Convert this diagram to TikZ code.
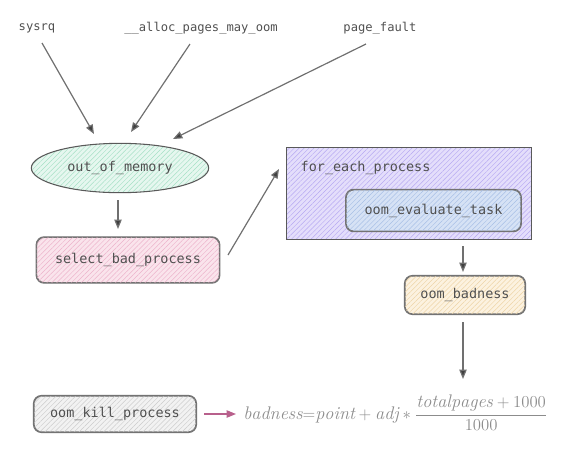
\documentclass[tikz,border=0pt]{standalone}
\usepackage{fontspec}
\usepackage{graphicx}
\setmonofont{DejaVu Sans Mono}
\usetikzlibrary{arrows.meta,patterns.meta,shapes.geometric}
\definecolor{txt}{HTML}{505050}
\definecolor{ln}{HTML}{707070}
\definecolor{tip}{HTML}{404040}
\definecolor{greenF}{HTML}{E6F7EF}
\definecolor{greenH}{HTML}{A6E0C6}
\definecolor{pinkF}{HTML}{FAE4EC}
\definecolor{pinkH}{HTML}{EDB3CB}
\definecolor{purpF}{HTML}{E4DEFB}
\definecolor{purpH}{HTML}{B6A9F2}
\definecolor{blueF}{HTML}{D6E2F5}
\definecolor{blueH}{HTML}{A7BFE6}
\definecolor{orF}{HTML}{FCF2E0}
\definecolor{orH}{HTML}{EED4A6}
\definecolor{grF}{HTML}{F2F2F2}
\definecolor{grH}{HTML}{CCCCCC}
\definecolor{pinkA}{HTML}{B8608C}
\tikzset{
  lbl/.style={font=\ttfamily\fontsize{9.1}{11}\selectfont, text=txt},
  blbl/.style={font=\ttfamily\fontsize{10.1}{12}\selectfont, text=txt},
  conn/.style={draw=ln, line width=0.9pt, -{Triangle[length=7pt,width=5.5pt,fill=tip]}},
  box/.style={rounded corners=6pt, draw=black!55, line width=0.8pt, inner sep=0pt},
  hatch/.style={pattern={Lines[angle=45,distance=2.6pt,line width=0.35pt]}, pattern color=#1, rounded corners=6pt},
  outl/.style={draw=black!55, line width=0.8pt, rounded corners=6pt},
}
\begin{document}
\begin{tikzpicture}[x=0.75pt,y=-0.75pt]
\useasboundingbox (0,0) rectangle (572,462);
% top labels
\node[lbl] (sysrq) at (37,28) {sysrq};
\node[lbl] (alloc) at (201,28) {\_\_alloc\_pages\_may\_oom};
\node[lbl] (pf) at (380,28) {page\_fault};
% out_of_memory
\node[ellipse, fill=greenF, minimum width=133pt, minimum height=37pt, inner sep=0pt] (oom) at (120,168) {};
\path[pattern={Lines[angle=45,distance=2.6pt,line width=0.35pt]}, pattern color=greenH] (120,168) ellipse (66pt and 18pt);
\draw[black!65, line width=0.8pt] (120,168) ellipse (66.5pt and 18.5pt);
\node[blbl] at (oom.center) {out\_of\_memory};
% select_bad_process
\node[box, fill=pinkF, minimum width=137pt, minimum height=34pt] (sbp) at (128,260) {};
\path[hatch=pinkH] (sbp.south west) rectangle (sbp.north east);
\draw[outl] (sbp.south west) rectangle (sbp.north east);
\node[blbl] at (sbp.center) {select\_bad\_process};
% for_each_process
\node[fill=purpF, minimum width=183pt, minimum height=68pt, inner sep=0pt] (fep) at (409,193.5) {};
\path[pattern={Lines[angle=45,distance=2.6pt,line width=0.35pt]}, pattern color=purpH] (fep.south west) rectangle (fep.north east);
\draw[black!65, line width=0.8pt] (fep.south west) rectangle (fep.north east);
\node[blbl, anchor=west] (fepl) at (296,168) {for\_each\_process};
% oom_evaluate_task
\node[box, fill=blueF, minimum width=131pt, minimum height=31pt] (oet) at (433.5,210.5) {};
\path[hatch=blueH] (oet.south west) rectangle (oet.north east);
\draw[outl] (oet.south west) rectangle (oet.north east);
\node[blbl] at (oet.center) {oom\_evaluate\_task};
% oom_badness
\node[box, fill=orF, minimum width=90pt, minimum height=28.5pt] (obd) at (465,295) {};
\path[hatch=orH] (obd.south west) rectangle (obd.north east);
\draw[outl] (obd.south west) rectangle (obd.north east);
\node[blbl] at (obd.center) {oom\_badness};
% oom_kill_process
\node[box, fill=grF, minimum width=121.5pt, minimum height=27pt] (okp) at (115,414) {};
\path[hatch=grH] (okp.south west) rectangle (okp.north east);
\draw[outl] (okp.south west) rectangle (okp.north east);
\node[blbl] at (okp.center) {oom\_kill\_process};
% formula
\node[anchor=west, text=black!45, inner sep=0pt, font=\fontsize{13.1}{15}\selectfont] (form) at (243,413) {\scalebox{1.045}{$\displaystyle\mathit{badness}{=}\mathit{point}+\mathit{adj}*\frac{\mathit{totalpages}+1000}{1000}$}};
% connectors
\coordinate (a1s) at (42,43); \coordinate (a1e) at (94,134);
\coordinate (a2s) at (190,44); \coordinate (a2e) at (131,132);
\coordinate (a3s) at (366,44); \coordinate (a3e) at (173,139);
\draw[conn] (a1s) -- (a1e);
\draw[conn] (a2s) -- (a2e);
\draw[conn] (a3s) -- (a3e);
\coordinate (b1s) at (118,200); \coordinate (b1e) at (118,229);
\draw[conn] (b1s) -- (b1e);
\coordinate (c1s) at (228,255); \coordinate (c1e) at (279,169);
\draw[conn] (c1s) -- (c1e);
\coordinate (d1s) at (463,246); \coordinate (d1e) at (463,272);
\draw[conn] (d1s) -- (d1e);
\coordinate (e1s) at (463,322); \coordinate (e1e) at (463,379);
\draw[conn] (e1s) -- (e1e);
\coordinate (f1s) at (204,414); \coordinate (f1e) at (236,414);
\draw[draw=pinkA, line width=0.9pt, -{Triangle[length=7pt,width=5.5pt,fill=pinkA]}] (f1s) -- (f1e);
\end{tikzpicture}
\end{document}
